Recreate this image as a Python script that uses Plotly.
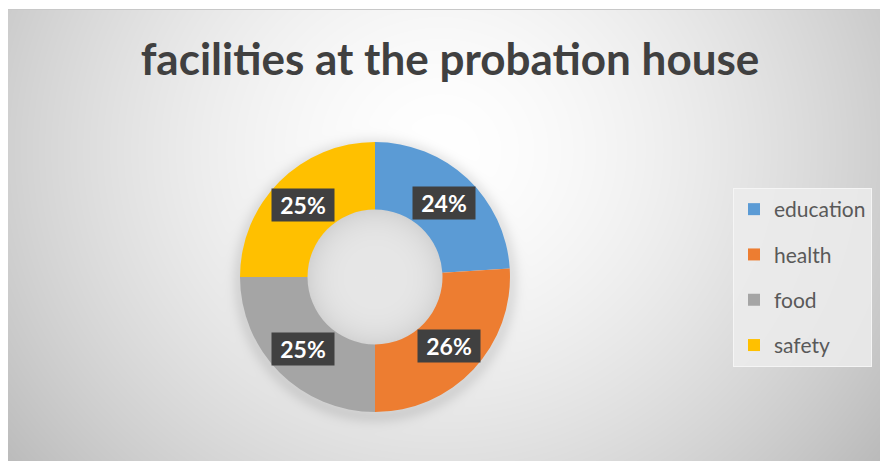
import base64
import math
import struct
import zlib

import numpy as np
import plotly.graph_objects as go

# ---------------- data ----------------
categories = ["education", "health", "food", "safety"]
values = [24, 26, 25, 25]
colors = ["#5B9BD5", "#ED7D31", "#A5A5A5", "#FFC000"]
title_text = "facilities at the probation house"

# ---------------- geometry / style ----------------
W, H = 880, 461
CX, CY, R = 375, 277, 135  # donut centre (px) and outer radius
HOLE = 0.5


def png_data_uri(arr):
    h, w, _ = arr.shape
    raw = b"".join(b"\x00" + arr[y].tobytes() for y in range(h))

    def chunk(tag, data):
        c = struct.pack(">I", len(data)) + tag + data
        return c + struct.pack(">I", zlib.crc32(tag + data) & 0xFFFFFFFF)

    png = b"\x89PNG\r\n\x1a\n"
    png += chunk(b"IHDR", struct.pack(">IIBBBBB", w, h, 8, 2, 0, 0, 0))
    png += chunk(b"IDAT", zlib.compress(raw, 9))
    png += chunk(b"IEND", b"")
    return "data:image/png;base64," + base64.b64encode(png).decode()


yy, xx = np.mgrid[0:H, 0:W].astype(float)
d = np.sqrt(((xx - 440) / 520) ** 2 + ((yy - 150) / 480) ** 2)
bg = 255 - 62 * d ** 1.6
# soft outer shadow of the donut
rr = np.sqrt((xx - CX) ** 2 + (yy - (CY + 3)) ** 2)
bg -= 22 * np.exp(-(((rr - R) / 9) ** 2)) * (rr > R - 10)
# hole inner shading
rh = np.sqrt((xx - CX) ** 2 + (yy - CY) ** 2)
inner = rh < R * HOLE + 1
bg = np.where(inner, 231 - 20 * (rh / (R * HOLE)) ** 4, bg)
# white frame on top / left
bg[:9, :] = 255
bg[:, :8] = 255
bg[9, 8:] = 200
bg = np.clip(bg, 0, 255).astype(np.uint8)
img = np.stack([bg, bg, bg], axis=-1)

fig = go.Figure()

fig.add_trace(
    go.Pie(
        labels=categories,
        values=values,
        marker=dict(colors=colors, line=dict(width=0)),
        hole=HOLE,
        sort=False,
        direction="clockwise",
        rotation=0,
        textinfo="none",
        hoverinfo="label+percent",
        showlegend=False,
        domain=dict(
            x=[(CX - R) / W, (CX + R) / W],
            y=[(H - CY - R) / H, (H - CY + R) / H],
        ),
    )
)

# legend entries
for i, (cat, col) in enumerate(zip(categories, colors)):
    fig.add_trace(
        go.Scatter(
            x=[None],
            y=[None],
            mode="markers",
            name=cat,
            legendgroup=cat,
            marker=dict(symbol="square", size=10, color=col),
            showlegend=True,
        )
    )

# percentage labels in dark boxes
total = sum(values)
cum = 0
r_lab = R * (1 + HOLE) / 2
for v in values:
    mid = (cum + v / 2) / total * 2 * math.pi
    cum += v
    px = CX + r_lab * math.sin(mid)
    py = CY - r_lab * math.cos(mid)
    fig.add_annotation(
        x=px / W,
        y=1 - py / H,
        xref="paper",
        yref="paper",
        text=f"{round(v / total * 100)}%",
        showarrow=False,
        font=dict(family="Lato", size=23, color="white", weight="bold"),
        bgcolor="#404040",
        width=60,
        height=30,
        xanchor="center",
        yanchor="middle",
    )

fig.update_layout(
    width=W,
    height=H,
    margin=dict(l=0, r=0, t=0, b=0),
    paper_bgcolor="white",
    plot_bgcolor="rgba(0,0,0,0)",
    title=dict(
        text=title_text,
        x=450 / W,
        xanchor="center",
        y=1 - 60 / H,
        yanchor="middle",
        font=dict(family="Lato", size=44, color="#404040", weight="bold"),
    ),
    xaxis=dict(visible=False),
    yaxis=dict(visible=False),
    legend=dict(
        x=733 / W,
        y=1 - 188 / H,
        xanchor="left",
        yanchor="top",
        bgcolor="rgba(236,236,236,0.85)",
        bordercolor="rgba(245,245,245,1)",
        borderwidth=1,
        font=dict(family="Lato", size=21, color="#595959"),
        tracegroupgap=15,
        itemsizing="constant",
    ),
    images=[
        dict(
            source=png_data_uri(img),
            xref="paper",
            yref="paper",
            x=0,
            y=1,
            sizex=1,
            sizey=1,
            sizing="stretch",
            xanchor="left",
            yanchor="top",
            layer="below",
        )
    ],
)

fig.write_html("out.html")
